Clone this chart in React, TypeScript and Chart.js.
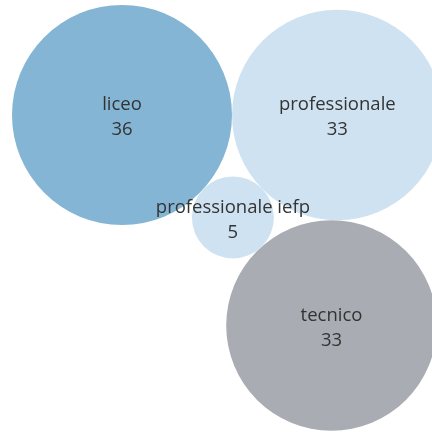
import React, { useEffect, useRef } from "react";
import { Chart, registerables } from "chart.js";

Chart.register(...registerables);

const categories = ["liceo", "professionale", "professionale iefp", "tecnico"];
const values = [36, 33, 5, 33];
const colors = ["#85b5d5", "#cfe2f1", "#cfe2f1", "#a9acb3"];

const W = 432;
const H = 433;
const PX_PER_SQRT = 110 / 6;
const ORIGIN = { x: 122, y: 115 };

type C = { x: number; y: number; r: number };

function tangentTo(a: C, b: C, r: number, sign: number): { x: number; y: number } {
  const dA = a.r + r;
  const dB = b.r + r;
  const dx = b.x - a.x;
  const dy = b.y - a.y;
  const d = Math.hypot(dx, dy);
  const t = (dA * dA - dB * dB + d * d) / (2 * d);
  const h = Math.sqrt(Math.max(0, dA * dA - t * t));
  const ux = dx / d;
  const uy = dy / d;
  const bx = a.x + t * ux;
  const by = a.y + t * uy;
  return { x: bx - sign * h * uy, y: by + sign * h * ux };
}

function layout(): C[] {
  const r = values.map((v) => PX_PER_SQRT * Math.sqrt(v));
  const L: C = { x: 0, y: 0, r: r[0] };
  const P: C = { x: r[0] + r[1], y: 0, r: r[1] };
  const Ipos = tangentTo(L, P, r[2], 1);
  const I: C = { ...Ipos, r: r[2] };
  const Tpos = tangentTo(I, P, r[3], 1);
  const T: C = { ...Tpos, r: r[3] };
  const res = [L, P, I, T];
  return res.map((c) => ({ x: c.x + ORIGIN.x, y: c.y + ORIGIN.y, r: c.r }));
}

const labelPlugin = {
  id: "bubbleLabels",
  afterDatasetsDraw(chart: any) {
    const ctx = chart.ctx;
    const meta = chart.getDatasetMeta(0);
    ctx.save();
    ctx.fillStyle = "#333333";
    ctx.font = "18.5px 'Open Sans', 'Noto Sans', sans-serif";
    ctx.textAlign = "center";
    ctx.textBaseline = "middle";
    meta.data.forEach((el: any, i: number) => {
      ctx.fillText(categories[i], el.x, el.y - 10);
      ctx.fillText(String(values[i]), el.x, el.y + 15);
    });
    ctx.restore();
  },
};

export default function App() {
  const ref = useRef<HTMLCanvasElement | null>(null);
  useEffect(() => {
    if (!ref.current) return;
    const pts = layout();
    const chart = new Chart(ref.current, {
      type: "bubble",
      data: {
        labels: categories,
        datasets: [
          {
            data: pts.map((p) => ({ x: p.x, y: p.y, r: p.r })),
            backgroundColor: colors,
            borderWidth: 0,
            hoverBorderWidth: 0,
            hoverRadius: 0,
          },
        ],
      },
      options: {
        responsive: false,
        animation: false,
        layout: { padding: 0, autoPadding: false } as any,
        events: [],
        clip: false as any,
        plugins: { legend: { display: false }, tooltip: { enabled: false } },
        scales: {
          x: { type: "linear", min: 0, max: W, display: false },
          y: { type: "linear", min: 0, max: H, reverse: true, display: false },
        },
      },
      plugins: [labelPlugin],
    });
    return () => chart.destroy();
  }, []);
  return (
    <div style={{ position: "fixed", left: 0, top: 0, width: W, height: H, background: "#fff" }}>
      <canvas ref={ref} width={W} height={H} style={{ display: "block" }} />
    </div>
  );
}
